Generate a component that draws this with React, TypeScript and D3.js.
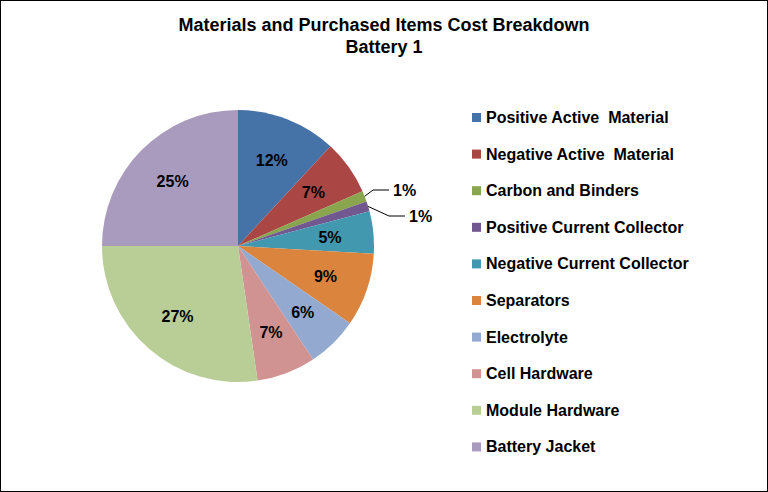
import React from "react";
import * as d3 from "d3";

const categories = ["Positive Active  Material","Negative Active  Material","Carbon and Binders","Positive Current Collector","Negative Current Collector","Separators","Electrolyte","Cell Hardware","Module Hardware","Battery Jacket"];
const values = [11.9,6.5,1.3,1.2,5.0,8.7,6.1,7.0,27.3,25.0];
const labels = ["12%","7%","1%","1%","5%","9%","6%","7%","27%","25%"];
const colors = ["#4572A7","#AA4643","#89A54E","#71588F","#4198AF","#DB843D","#93A9CF","#D19392","#B9CD96","#A99BBD"];

export default function App() {
  const cx = 238, cy = 246, r = 136;
  const arcs = d3.pie<number>().sort(null)(values);
  const arc = d3.arc<d3.PieArcDatum<number>>().innerRadius(0).outerRadius(r);
  const lab = d3.arc<d3.PieArcDatum<number>>().innerRadius(r * 0.68).outerRadius(r * 0.68);
  const outside: Record<number, [number, number]> = { 2: [155, -54], 3: [171, -28] };
  const font = "Arial, 'Liberation Sans', sans-serif";
  return (
    <svg width={768} height={492} style={{ position: "absolute", left: 0, top: 0 }} fontFamily={font}>
      <rect x={0.5} y={0.5} width={767} height={491} fill="white" stroke="#000" />
      <text x={384} y={31} textAnchor="middle" fontSize={18} fontWeight="bold">Materials and Purchased Items Cost Breakdown</text>
      <text x={384} y={53} textAnchor="middle" fontSize={18} fontWeight="bold">Battery 1</text>
      <g transform={`translate(${cx},${cy})`}>
        {arcs.map((a, i) => (
          <path key={i} d={arc(a)!} fill={colors[i]} stroke="white" strokeWidth={0} />
        ))}
        {arcs.map((a, i) => {
          if (outside[i]) {
            const [px, py] = arc.centroid(a).map(v => v / 0.5) as [number, number];
            const ex = px * (r / Math.hypot(px, py)), ey = py * (r / Math.hypot(px, py));
            const [tx, ty] = outside[i];
            return (
              <g key={i}>
                <polyline points={`${ex},${ey} ${tx - 20},${ty - 2} ${tx - 4},${ty - 2}`} fill="none" stroke="#000" strokeWidth={1} />
                <text x={tx} y={ty + 4} fontSize={16} fontWeight="bold">{labels[i]}</text>
              </g>
            );
          }
          const [x, y] = lab.centroid(a);
          return <text key={i} x={x} y={y + 6} textAnchor="middle" fontSize={16} fontWeight="bold">{labels[i]}</text>;
        })}
      </g>
      {categories.map((c, i) => (
        <g key={i} transform={`translate(472,${118 + i * 36.6})`}>
          <rect x={0} y={-5} width={9} height={9} fill={colors[i]} />
          <text x={14} y={5} fontSize={16} fontWeight="bold" style={{ whiteSpace: "pre" }}>{c}</text>
        </g>
      ))}
    </svg>
  );
}
